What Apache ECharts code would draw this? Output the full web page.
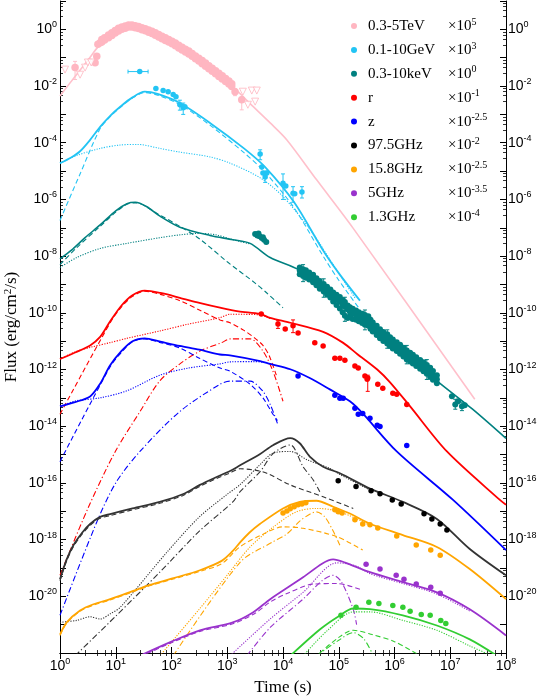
<!DOCTYPE html>
<html>
<head>
<meta charset="utf-8">
<script src="https://cdn.jsdelivr.net/npm/echarts@6/dist/echarts.min.js"></script>
<style>
  html, body { margin: 0; padding: 0; background: #fff; }
  #chart { width: 540px; height: 700px; }
</style>
</head>
<body>
<div id="chart"></div>
<script>
// all points as [log10 time(s), log10 flux], already multiplied by band factor

// legend
const bands = ['0.3-5TeV', '0.1-10GeV', '0.3-10keV', 'r', 'z', '97.5GHz', '15.8GHz', '5GHz', '1.3GHz']
const bandScale = ['5', '3', '0', '-1', '-2.5', '-2', '-2.5', '-3.5', '-4']
const bandColors = ['#FFC0CB', '#22C4F4', '#008080', '#FF0000', '#0000FF', '#000000', '#FFA500', '#9932CC', '#32CD32']

const xTicks = [0, 1, 2, 3, 4, 5, 6, 7, 8]
const yTicks = [0, -2, -4, -6, -8, -10, -12, -14, -16, -18, -20]

// ---- 0.3-5TeV
const tevTotal = [[0,-2.35],[0.27,-1.66],[0.51,-1.06],[0.69,-0.6],[0.9,-0.22],[1.1,0.02],[1.26,0.1],[1.45,0.04],[1.7,-0.18],[2.0,-0.48],[2.3,-0.84],[2.6,-1.26],[2.9,-1.7],[3.1,-2.02],[3.41,-2.62],[3.77,-3.3],[4.07,-3.9],[4.6,-5.3],[5.26,-7.02],[7.44,-13.05]]
const tevData = [[0.63,-1.18],[0.66,-0.95],[0.68,-0.53],[0.72,-0.47],
  [0.75,-0.45],[0.75,-0.36],[0.80,-0.38],[0.80,-0.30],[0.87,-0.30],[0.87,-0.20],[0.93,-0.22],[0.93,-0.12],
  [0.99,-0.13],[0.99,-0.04],[1.05,-0.06],[1.05,0.04],[1.11,0.00],[1.11,0.08],[1.17,0.04],[1.17,0.12],
  [1.23,0.08],[1.23,0.15],[1.29,0.08],[1.29,0.15],[1.35,0.06],[1.35,0.13],[1.41,0.03],[1.41,0.10],
  [1.47,-0.01],[1.47,0.06],[1.53,-0.05],[1.53,0.02],[1.59,-0.10],[1.59,-0.02],[1.65,-0.15],[1.65,-0.07],
  [1.71,-0.21],[1.71,-0.12],[1.77,-0.27],[1.77,-0.18],[1.83,-0.33],[1.83,-0.24],[1.89,-0.39],[1.89,-0.30],
  [1.95,-0.45],[1.95,-0.36],[2.01,-0.51],[2.01,-0.42],[2.07,-0.58],[2.07,-0.48],[2.13,-0.66],[2.13,-0.56],
  [2.19,-0.73],[2.19,-0.63],[2.25,-0.80],[2.25,-0.70],[2.31,-0.87],[2.31,-0.76],[2.37,-0.95],[2.37,-0.85],
  [2.43,-1.04],[2.43,-0.94],[2.49,-1.12],[2.49,-1.02],[2.55,-1.21],[2.55,-1.10],[2.61,-1.30],[2.61,-1.19],
  [2.67,-1.39],[2.67,-1.28],[2.73,-1.48],[2.73,-1.37],[2.79,-1.57],[2.79,-1.46],[2.85,-1.66],[2.85,-1.55],
  [2.91,-1.75],[2.91,-1.64],[2.97,-1.84],[2.97,-1.73],[3.03,-1.93],[3.03,-1.82],[3.08,-2.02],[3.08,-1.92],
  [0.27,-1.35],[3.14,-2.2],[3.26,-2.48]]
const tevErr = [[0.27,-1.13,-1.77],[3.14,-2.09,-2.34],[3.26,-2.38,-2.84]]
const tevLimits = [[0.09,-1.42],[0.36,-1.6],[0.45,-1.35],[0.5,-1.17],[0.56,-1.17],[3.28,-2.2],[3.44,-2.16],[3.53,-2.16],[3.37,-2.66],[3.5,-2.55]]

// ---- 0.1-10GeV
const gevTotal = [[0,-4.72],[0.2,-4.52],[0.36,-4.3],[0.54,-3.9],[0.72,-3.44],[0.9,-3.05],[1.08,-2.73],[1.3,-2.4],[1.52,-2.2],[1.75,-2.28],[2.15,-2.6],[2.69,-3.3],[3.3,-4.2],[3.68,-4.86],[4.2,-6.1],[4.72,-7.8],[5.0,-8.6],[5.38,-9.57]]
const gevDashed = [[0,-6.74],[0.36,-5.1],[0.72,-3.5],[0.9,-3.08],[1.08,-2.76],[1.3,-2.42],[1.52,-2.23],[1.75,-2.32],[2.15,-2.65],[2.69,-3.38],[3.3,-4.35],[3.68,-5.05],[4.2,-6.3],[4.72,-8.0],[5.0,-8.85],[5.35,-9.8]]
const gevDotted = [[0,-4.72],[0.3,-4.45],[0.72,-4.2],[1.08,-4.08],[1.4,-4.06],[1.79,-4.2],[2.15,-4.33],[2.69,-4.5],[3.05,-4.72],[3.6,-5.25],[4.0,-5.9],[4.5,-7.1],[4.9,-8.3],[5.3,-9.5]]
const gevData = [[1.43,-1.49],[1.72,-2.09],[1.85,-2.16],[1.94,-2.2],[2.03,-2.3],[2.08,-2.38],[2.15,-2.66],[2.21,-2.77],[2.24,-2.73],
  [3.59,-4.4],[3.62,-4.86],[3.64,-5.07],[3.68,-5.21],[3.71,-5.07],[4.0,-5.43],[4.05,-5.53],[4.18,-5.78],[4.21,-5.8],[4.34,-5.74]]
const gevErr = [[2.15,-2.5,-2.85],[2.21,-2.6,-3.0],[3.59,-4.25,-4.6],[3.68,-5.0,-5.4],[4.0,-5.1,-6.0],[4.18,-5.55,-6.1],[4.34,-5.55,-5.95]]
const gevXErr = [[1.22,1.58,-1.49]]

// ---- 0.3-10keV
const xrayTotal = [[0,-8.1],[0.2,-7.8],[0.45,-7.35],[0.72,-6.9],[1.0,-6.4],[1.2,-6.15],[1.35,-6.1],[1.55,-6.25],[1.8,-6.6],[2.15,-6.98],[2.69,-7.27],[3.1,-7.42],[3.41,-7.55],[3.77,-8.05],[4.3,-8.5],[5.0,-9.55],[5.6,-10.5],[6.2,-11.45],[6.76,-12.4],[7.4,-13.4],[8,-14.43]]
const xrayDashed = [[0,-8.3],[0.3,-7.7],[0.72,-6.95],[1.0,-6.45],[1.2,-6.17],[1.35,-6.12],[1.79,-6.55],[2.15,-6.95],[2.51,-7.4],[3.0,-8.2],[3.5,-8.95],[3.71,-9.3],[4.0,-9.82]]
const xrayDotted = [[0,-8.4],[0.3,-8.05],[0.72,-7.73],[1.2,-7.55],[1.79,-7.35],[2.15,-7.25],[2.5,-7.2],[2.8,-7.25],[3.1,-7.42],[3.41,-7.57]]
const xrayData = [[3.5,-7.22],[3.54,-7.27],[3.58,-7.3],[3.62,-7.36],[3.66,-7.42],[3.7,-7.5],[3.56,-7.2],[3.64,-7.33],
  [4.30,-8.40],[4.30,-8.51],[4.30,-8.64],[4.36,-8.46],[4.36,-8.58],[4.36,-8.70],[4.41,-8.50],[4.41,-8.62],[4.41,-8.76],
  [4.47,-8.58],[4.47,-8.70],[4.47,-8.82],[4.54,-8.66],[4.54,-8.79],[4.54,-8.92],[4.60,-8.78],[4.60,-8.90],[4.60,-9.03],
  [4.66,-8.88],[4.66,-9.01],[4.66,-9.15],[4.73,-8.98],[4.73,-9.11],[4.73,-9.25],[4.79,-9.08],[4.79,-9.22],[4.79,-9.36],
  [4.85,-9.18],[4.85,-9.32],[4.85,-9.46],[4.90,-9.28],[4.90,-9.43],[4.90,-9.60],[4.96,-9.36],[4.96,-9.52],[4.96,-9.72],
  [5.02,-9.44],[5.02,-9.61],[5.02,-9.85],[5.07,-9.55],[5.07,-9.72],[5.07,-9.98],[5.11,-9.62],[5.11,-9.79],[5.11,-10.10],
  [5.16,-9.74],[5.16,-9.88],[5.16,-10.18],[5.20,-9.80],[5.20,-9.96],[5.20,-10.12],[5.25,-9.86],[5.25,-10.02],[5.25,-10.22],
  [5.31,-9.92],[5.31,-10.07],[5.31,-10.24],[5.36,-9.98],[5.36,-10.13],[5.36,-10.30],[5.42,-10.03],[5.42,-10.18],[5.42,-10.36],
  [5.47,-10.08],[5.47,-10.23],[5.47,-10.42],[5.53,-10.12],[5.53,-10.28],[5.53,-10.46],[5.57,-10.24],[5.57,-10.39],[5.57,-10.56],
  [5.61,-10.34],[5.61,-10.50],[5.61,-10.66],[5.68,-10.46],[5.68,-10.62],[5.68,-10.78],[5.74,-10.58],[5.74,-10.74],[5.74,-10.90],
  [5.80,-10.68],[5.80,-10.83],[5.80,-10.99],[5.87,-10.76],[5.87,-10.92],[5.87,-11.08],[5.92,-10.86],[5.92,-11.01],[5.92,-11.17],
  [5.97,-10.94],[5.97,-11.10],[5.97,-11.26],[6.04,-11.04],[6.04,-11.19],[6.04,-11.35],[6.10,-11.13],[6.10,-11.28],[6.10,-11.44],
  [6.16,-11.23],[6.16,-11.38],[6.16,-11.54],[6.22,-11.33],[6.22,-11.49],[6.22,-11.65],[6.28,-11.41],[6.28,-11.56],[6.28,-11.72],
  [6.33,-11.48],[6.33,-11.63],[6.33,-11.79],[6.39,-11.57],[6.39,-11.72],[6.39,-11.88],[6.46,-11.66],[6.46,-11.81],[6.46,-11.97],
  [6.52,-11.74],[6.52,-11.90],[6.52,-12.06],[6.58,-11.84],[6.58,-11.99],[6.58,-12.15],[6.64,-11.94],[6.64,-12.10],[6.64,-12.26],
  [6.69,-12.05],[6.69,-12.20],[6.69,-12.36],[6.76,-12.20],[6.76,-12.34],[6.76,-12.48],
  [7.03,-12.94],[7.09,-13.23],[7.14,-13.12],[7.21,-13.3],[7.26,-13.26]]
const xrayErr = [[4.36,-8.9,-8.3],[4.73,-9.45,-8.8],[5.11,-10.3,-9.45],[5.47,-10.6,-9.9],[5.87,-11.25,-10.6],[6.22,-11.8,-11.15],[6.58,-12.35,-11.65],[7.09,-13.4,-13.05],[7.21,-13.45,-13.15]]

// ---- r
const rTotal = [[0,-11.63],[0.27,-11.4],[0.54,-11.15],[0.72,-10.85],[0.9,-10.3],[1.1,-9.75],[1.3,-9.38],[1.52,-9.22],[1.8,-9.3],[2.15,-9.47],[2.5,-9.65],[2.87,-9.82],[3.2,-9.95],[3.59,-10.04],[3.77,-10.18],[4.13,-10.35],[4.72,-10.67],[5.08,-11.06],[5.33,-11.45],[5.69,-12.0],[5.92,-12.45],[6.28,-13.3],[6.94,-14.89],[7.89,-16.6],[8.0,-16.77]]
const rDashed = [[0,-13.58],[0.9,-10.35],[1.1,-9.8],[1.3,-9.42],[1.52,-9.24],[1.8,-9.35],[2.15,-9.57],[2.5,-9.9],[2.87,-10.25],[3.05,-10.35],[3.3,-10.62],[3.5,-10.9],[3.64,-11.15],[3.75,-11.5],[3.88,-12.2]]
const rDotted = [[0,-11.63],[0.27,-11.38],[0.54,-11.22],[0.9,-11.05],[1.2,-10.9],[1.79,-10.64],[2.3,-10.4],[2.87,-10.17],[3.05,-10.05],[3.59,-10.07],[3.77,-10.2]]
const rDashDot = [[0,-19.26],[0.5,-16.9],[0.99,-14.9],[1.43,-13.5],[1.79,-12.4],[2.15,-11.8],[2.51,-11.35],[2.9,-11.05],[3.05,-10.92],[3.41,-10.92],[3.64,-11.35],[3.82,-12.06],[4.0,-13.12]]
const rData = [[3.61,-10.04],[3.91,-10.39],[4.04,-10.57],[4.18,-10.46],[4.27,-10.71],[4.57,-11.06],[4.72,-11.17],[4.93,-11.6],[5.02,-11.6],[5.11,-11.67],[5.29,-11.88],[5.35,-11.95],[5.47,-12.23],[5.51,-12.34],[5.52,-12.3],[5.7,-12.52],[5.79,-12.66],[5.97,-12.84],[6.04,-12.87],[6.22,-13.23]]
const rErr = [[3.91,-10.28,-10.55],[4.18,-10.25,-10.7],[5.52,-12.2,-12.77]]

// ---- z
const zTotal = [[0,-13.3],[0.27,-13.15],[0.54,-12.95],[0.72,-12.5],[0.9,-11.85],[1.1,-11.35],[1.3,-11.0],[1.52,-10.9],[1.8,-11.02],[2.15,-11.17],[2.5,-11.3],[2.87,-11.47],[3.05,-11.5],[3.59,-11.7],[3.77,-11.8],[4.13,-11.99],[4.48,-12.3],[4.84,-12.7],[5.2,-13.12],[5.43,-13.55],[6.04,-14.89],[7.05,-16.6],[8,-18.37]]
const zDashed = [[0,-15.25],[0.9,-11.9],[1.1,-11.4],[1.3,-11.02],[1.52,-10.92],[1.8,-11.05],[2.15,-11.24],[2.5,-11.6],[2.87,-11.95],[3.05,-12.06],[3.41,-12.52],[3.64,-13.0],[3.82,-13.58],[3.9,-13.8]]
const zDotted = [[0,-13.3],[0.3,-13.1],[0.72,-13.0],[1.2,-12.75],[1.79,-12.2],[2.3,-11.95],[2.87,-11.8],[3.05,-11.73],[3.5,-11.72],[3.7,-11.76]]
const zDashDot = [[0,-20.67],[0.66,-17.38],[1.0,-16.0],[1.43,-14.9],[2.15,-13.48],[2.87,-12.52],[3.05,-12.41],[3.41,-12.41],[3.64,-12.77],[3.77,-13.23],[3.9,-13.9]]
const zData = [[4.27,-12.23],[4.93,-12.91],[5.02,-13.01],[5.08,-13.01],[5.29,-13.37],[5.35,-13.58],[5.43,-13.55],[5.56,-13.72],[5.69,-13.97],[5.74,-14.01],[6.22,-14.68]]

// ---- 97.5GHz
const g97Total = [[0,-19.4],[0.12,-18.7],[0.24,-18.2],[0.4,-17.75],[0.54,-17.45],[0.72,-17.2],[0.9,-17.1],[1.3,-16.9],[1.79,-16.67],[2.2,-16.4],[2.51,-16.07],[2.8,-15.8],[3.05,-15.58],[3.23,-15.38],[3.59,-14.98],[3.82,-14.67],[4.13,-14.42],[4.3,-14.6],[4.48,-15.07],[4.72,-15.43],[5.02,-15.66],[5.56,-16.2],[6.15,-16.67],[6.76,-17.27],[7.35,-18.33],[8,-19.26]]
const g97Dashed = [[0,-19.45],[0.12,-18.75],[0.24,-18.25],[0.4,-17.8],[0.54,-17.5],[0.72,-17.25],[0.9,-17.15],[1.3,-16.95],[1.79,-16.72],[2.2,-16.45],[2.51,-16.12],[2.8,-15.85],[3.05,-15.65],[3.23,-15.5],[3.5,-15.55],[3.71,-15.66],[4.13,-16.07],[4.72,-16.49],[5.26,-16.9]]
const g97Dotted = [[0,-20.92],[0.3,-20.85],[0.54,-20.72],[0.72,-20.8],[0.9,-20.62],[1.08,-20.39],[1.92,-18.44],[2.5,-17.2],[3.0,-16.4],[3.23,-16.06],[3.59,-15.35],[3.82,-14.95],[4.13,-14.89],[4.43,-15.18],[4.84,-15.49],[5.02,-15.7],[5.56,-16.25]]
const g97DashDot = [[0.27,-22.1],[1.0,-20.7],[1.79,-19.15],[2.5,-17.7],[3.1,-16.67],[3.23,-16.31],[3.59,-15.6],[3.83,-14.95],[4.13,-14.66],[4.36,-15.43],[4.54,-15.89],[4.66,-16.31]]
const g97Data = [[4.99,-15.92],[5.31,-16.13],[5.58,-16.28],[5.74,-16.38],[5.96,-16.6],[6.12,-16.74],[6.53,-17.09],[6.67,-17.27],[6.82,-17.45],[6.94,-17.66]]

// ---- 15.8GHz
const g15Total = [[0,-21.35],[0.12,-20.92],[0.36,-20.5],[0.6,-20.28],[0.9,-20.1],[1.3,-19.82],[1.61,-19.6],[2.0,-19.38],[2.51,-19.08],[2.9,-18.75],[3.1,-18.4],[3.23,-18.1],[3.4,-17.75],[3.59,-17.44],[4.0,-16.9],[4.3,-16.67],[4.6,-16.63],[4.9,-16.84],[5.2,-17.08],[5.56,-17.44],[6.15,-17.84],[6.76,-18.26],[7.35,-19.04],[8,-20.1]]
const g15Dashed = [[0,-21.38],[0.12,-20.95],[0.36,-20.53],[0.6,-20.31],[0.9,-20.13],[1.3,-19.85],[1.61,-19.63],[2.0,-19.41],[2.51,-19.12],[2.9,-18.85],[3.23,-18.25],[3.6,-17.85],[4.0,-17.55],[4.36,-17.6],[4.97,-17.9],[5.43,-18.37]]
const g15Dotted = [[1.79,-22.1],[2.5,-20.45],[3.0,-19.25],[3.41,-18.26],[3.83,-17.55],[4.24,-17.02],[4.6,-16.9],[5.02,-17.02],[5.56,-17.5]]
const g15DashDot = [[2.03,-22.1],[3.23,-18.8],[3.8,-18.1],[4.07,-17.8],[4.3,-17.35],[4.5,-17.08],[4.6,-17.02],[4.75,-17.2],[4.9,-17.7],[5.02,-18.2]]
const g15Data = [[4.0,-17.06],[4.07,-16.99],[4.13,-16.91],[4.2,-16.84],[4.27,-16.77],[4.34,-16.74],[4.41,-16.7],[4.93,-16.95],[4.99,-17.02],[5.06,-17.06],[5.29,-17.3],[5.43,-17.45],[5.56,-17.48],[5.7,-17.59],[6.04,-17.87],[6.39,-18.19],[6.65,-18.37],[6.82,-18.55]]

// ---- 5GHz
const g5Total = [[1.43,-22.1],[2.0,-21.6],[2.51,-21.2],[3.1,-20.92],[3.46,-20.57],[3.77,-20.1],[4.36,-19.33],[4.7,-18.85],[4.9,-18.7],[5.1,-18.8],[5.56,-19.15],[6.15,-19.5],[6.76,-19.86],[7.35,-20.46],[8,-21.38]]
const g5Dashed = [[1.43,-22.14],[2.0,-21.64],[2.51,-21.24],[3.1,-20.97],[3.5,-20.6],[3.77,-20.2],[4.07,-19.9],[4.54,-19.57],[4.97,-19.55],[5.43,-19.79]]
const g5Dotted = [[3.05,-22.1],[3.77,-20.8],[4.36,-19.86],[4.97,-18.82],[5.3,-18.92],[5.56,-19.2],[6.15,-19.55],[6.76,-19.92],[7.35,-20.52]]
const g5DashDot = [[3.35,-22.1],[3.77,-21.1],[4.36,-20.1],[4.7,-19.45],[4.9,-19.26],[5.05,-19.5],[5.26,-20.46],[5.32,-21.0]]
const g5Data = [[5.49,-18.87],[5.74,-19.04],[6.03,-19.26],[6.17,-19.4],[6.39,-19.57],[6.65,-19.68],[6.82,-19.89]]

// ---- 1.3GHz
const g1Total = [[4.13,-22.1],[4.66,-21.17],[5.0,-20.7],[5.26,-20.43],[5.56,-20.45],[6.15,-20.67],[6.76,-21.03],[7.35,-21.52],[7.84,-22.1]]
const g1Dashed = [[4.66,-22.0],[5.0,-21.45],[5.26,-21.2],[5.6,-21.35],[6.0,-21.6],[6.46,-22.1]]
const g1Dotted = [[4.36,-22.1],[4.8,-21.2],[5.26,-20.55],[5.56,-20.55],[6.15,-20.85],[6.76,-21.2],[7.35,-21.75],[7.75,-22.1]]
const g1DashDot = [[4.6,-22.1],[5.0,-21.55],[5.26,-21.28],[5.45,-21.5],[5.62,-22.1]]
const g1Data = [[5.04,-20.67],[5.31,-20.39],[5.54,-20.21],[5.72,-20.25],[5.97,-20.32],[6.15,-20.39],[6.28,-20.53],[6.48,-20.64],[6.64,-20.67],[6.83,-20.85],[6.92,-20.96]]

// ---------------------------------------------------------------
const dec = pts => pts.map(p => p.map(v => Math.pow(10, v)))

const SERIF = '"Liberation Serif", "Times New Roman", serif'
const SANS = '"Liberation Sans", Arial, sans-serif'
const dashes = { solid: 'solid', dashed: [5, 3], dotted: [1.2, 1.4], dashdot: [6, 2.5, 1.2, 2.5] }

function curve(pts, color, kind, width) {
  return {
    type: 'line', data: dec(pts), showSymbol: false, smooth: 0.3, silent: true, z: 2,
    lineStyle: { color: color, width: width || 1.1, type: dashes[kind] }
  }
}

function points(name, pts, color, size) {
  return {
    type: 'scatter', name: name, data: dec(pts), symbol: 'circle', symbolSize: size || 5.5,
    itemStyle: { color: color, opacity: 1 }, silent: true, z: 5
  }
}

// vertical error bars [t, lo, hi]
function errBars(pts, color) {
  return {
    type: 'custom', silent: true, z: 4, data: dec(pts),
    encode: { x: 0, y: [1, 2] },
    renderItem: function (params, api) {
      const a = api.coord([api.value(0), api.value(1)])
      const b = api.coord([api.value(0), api.value(2)])
      const st = { stroke: color, lineWidth: 1 }
      return { type: 'group', children: [
        { type: 'line', shape: { x1: a[0], y1: a[1], x2: b[0], y2: b[1] }, style: st },
        { type: 'line', shape: { x1: a[0] - 2, y1: a[1], x2: a[0] + 2, y2: a[1] }, style: st },
        { type: 'line', shape: { x1: b[0] - 2, y1: b[1], x2: b[0] + 2, y2: b[1] }, style: st }
      ] }
    }
  }
}

// horizontal error bars [t1, t2, F]
function xErrBars(pts, color) {
  return {
    type: 'custom', silent: true, z: 4, data: dec(pts),
    encode: { x: [0, 1], y: 2 },
    renderItem: function (params, api) {
      const a = api.coord([api.value(0), api.value(2)])
      const b = api.coord([api.value(1), api.value(2)])
      const st = { stroke: color, lineWidth: 1 }
      return { type: 'group', children: [
        { type: 'line', shape: { x1: a[0], y1: a[1], x2: b[0], y2: b[1] }, style: st },
        { type: 'line', shape: { x1: a[0], y1: a[1] - 2, x2: a[0], y2: a[1] + 2 }, style: st },
        { type: 'line', shape: { x1: b[0], y1: b[1] - 2, x2: b[0], y2: b[1] + 2 }, style: st }
      ] }
    }
  }
}

const [cTev, cGev, cX, cR, cZ, cBlack, cOr, cPu, cGr] = bandColors
const lineBlack = '#333333'

const series = [
  curve(tevTotal, cTev, 'solid', 1.6),

  curve(gevDotted, cGev, 'dotted'), curve(gevDashed, cGev, 'dashed'), curve(gevTotal, cGev, 'solid', 1.8),

  curve(xrayDotted, cX, 'dotted'), curve(xrayDashed, cX, 'dashed'), curve(xrayTotal, cX, 'solid', 1.6),

  curve(rDotted, cR, 'dotted'), curve(rDashed, cR, 'dashed'), curve(rDashDot, cR, 'dashdot'), curve(rTotal, cR, 'solid', 1.8),

  curve(zDotted, cZ, 'dotted'), curve(zDashed, cZ, 'dashed'), curve(zDashDot, cZ, 'dashdot'), curve(zTotal, cZ, 'solid', 1.8),

  curve(g97Dotted, lineBlack, 'dotted'), curve(g97Dashed, lineBlack, 'dashed'), curve(g97DashDot, lineBlack, 'dashdot'), curve(g97Total, lineBlack, 'solid', 1.8),

  curve(g15Dotted, cOr, 'dotted'), curve(g15Dashed, cOr, 'dashed'), curve(g15DashDot, cOr, 'dashdot'), curve(g15Total, cOr, 'solid', 1.8),

  curve(g5Dotted, cPu, 'dotted'), curve(g5Dashed, cPu, 'dashed'), curve(g5DashDot, cPu, 'dashdot'), curve(g5Total, cPu, 'solid', 1.8),

  curve(g1Dotted, cGr, 'dotted'), curve(g1Dashed, cGr, 'dashed'), curve(g1DashDot, cGr, 'dashdot'), curve(g1Total, cGr, 'solid', 1.8),

  errBars(tevErr, cTev), errBars(gevErr, cGev), xErrBars(gevXErr, cGev), errBars(xrayErr, cX), errBars(rErr, cR),

  points(bands[0], tevData, '#FFB6C1', 7.5),
  {
    type: 'scatter', data: dec(tevLimits), symbol: 'triangle', symbolRotate: 180, symbolSize: 7, silent: true, z: 5,
    itemStyle: { color: '#ffffff', borderColor: '#FFB6C1', borderWidth: 1 }
  },
  points(bands[1], gevData, cGev, 5.5),
  points(bands[2], xrayData, cX, 6),
  points(bands[3], rData, cR, 5.5),
  points(bands[4], zData, cZ, 5.5),
  points(bands[5], g97Data, cBlack, 5.5),
  points(bands[6], g15Data, cOr, 5.5),
  points(bands[7], g5Data, cPu, 5.5),
  points(bands[8], g1Data, cGr, 5.5)
]

const supRich = {
  b: { fontFamily: SANS, fontSize: 14, color: '#000', lineHeight: 18 },
  s: { fontFamily: SANS, fontSize: 9, color: '#000', verticalAlign: 'top', lineHeight: 10 }
}

function tickLabel(list) {
  return function (v) {
    const e = Math.round(Math.log10(v))
    return list.indexOf(e) >= 0 ? '{b|10}{s|' + e + '}' : ''
  }
}

const axisLine = { show: true, lineStyle: { color: '#000', width: 1 } }
const tick = { show: true, inside: true, length: 6, lineStyle: { color: '#000', width: 1 } }
const minor = { show: true, splitNumber: 5, length: 3, lineStyle: { color: '#000', width: 0.8 } }

const xBase = {
  type: 'log', logBase: 10, min: 1, max: 1e8, splitNumber: 8, interval: 1,
  axisLine: axisLine, axisTick: tick, minorTick: minor, splitLine: { show: false }
}
const yBase = {
  type: 'log', logBase: 10, min: 1e-22, max: 10, splitNumber: 23, interval: 1,
  axisLine: axisLine, axisTick: tick, minorTick: minor, splitLine: { show: false }
}

const option = {
  animation: false,
  backgroundColor: '#fff',
  grid: { left: 60, right: 34, top: 1, bottom: 47, containLabel: false, outerBoundsMode: 'none' },
  legend: {
    orient: 'vertical', left: 346, top: 12, itemGap: 7.4, itemWidth: 6, itemHeight: 6,
    icon: 'circle', selectedMode: false, data: bands,
    formatter: function (name) {
      const i = bands.indexOf(name)
      return '{g|}{a|' + name + '}{m|\u00d710}{s|' + bandScale[i] + '}'
    },
    textStyle: {
      rich: {
        g: { width: 6 },
        a: { fontFamily: SERIF, fontSize: 15, color: '#000', width: 80, lineHeight: 18 },
        m: { fontFamily: SERIF, fontSize: 15, color: '#000', lineHeight: 18 },
        s: { fontFamily: SERIF, fontSize: 10, color: '#000', verticalAlign: 'top', lineHeight: 10 }
      }
    }
  },
  xAxis: [
    Object.assign({}, xBase, {
      position: 'bottom',
      name: 'Time (s)', nameLocation: 'middle', nameGap: 26,
      nameTextStyle: { fontFamily: SERIF, fontSize: 17, color: '#000' },
      axisLabel: { show: true, margin: 4, interval: 0, formatter: tickLabel(xTicks), rich: supRich }
    }),
    Object.assign({}, xBase, { position: 'top', axisLabel: { show: false } })
  ],
  yAxis: [
    Object.assign({}, yBase, {
      position: 'left',
      name: 'Flux (erg/cm{s|2}/s)', nameLocation: 'middle', nameGap: 40, nameMoveOverlap: false,
      nameTextStyle: {
        fontFamily: SERIF, fontSize: 17, color: '#000',
        rich: { s: { fontFamily: SERIF, fontSize: 11, color: '#000', verticalAlign: 'top', lineHeight: 10 } }
      },
      axisLabel: { show: true, margin: 3, interval: 0, formatter: tickLabel(yTicks), rich: supRich }
    }),
    Object.assign({}, yBase, {
      position: 'right',
      axisLabel: { show: true, margin: 2, interval: 0, formatter: tickLabel(yTicks), rich: supRich }
    })
  ],
  series: series
}

const chart = echarts.init(document.getElementById('chart'), null, { renderer: 'canvas' })
chart.setOption(option)
</script>
</body>
</html>
